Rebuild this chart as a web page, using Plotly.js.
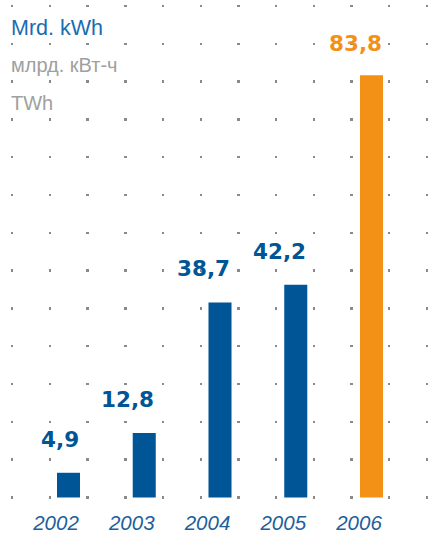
<!DOCTYPE html>
<html>
<head>
<meta charset="utf-8">
<script src="https://cdn.plot.ly/plotly-3.0.1.min.js"></script>
<style>
  html, body { margin: 0; padding: 0; background: #fff; }
  #chart { width: 429px; height: 536px; }
</style>
</head>
<body>
<div id="chart"></div>
<script>
// ---- data ----
const years = [2002, 2003, 2004, 2005, 2006];
const yearLabels = ['2002', '2003', '2004', '2005', '2006'];
const values = [4.9, 12.8, 38.7, 42.2, 83.8];
const highlightYear = 2006;
const unitLabels = ['Mrd. kWh', 'млрд. кВт-ч', 'TWh'];

// ---- styles ----
const BLUE = '#005596';
const ORANGE = '#f39117';
const colors = years.map(y => y === highlightYear ? ORANGE : BLUE);
const fmt = v => v.toFixed(1).replace('.', ',');
const labelOffset = 0.165; // year labels sit a little left of the bar centre

const bar = {
  type: 'bar',
  x: years,
  y: values,
  width: 0.304,
  marker: { color: colors, line: { width: 0 } },
  hoverinfo: 'skip'
};

const valueAnnotations = years.map((yr, i) => ({
  x: yr, y: values[i], xref: 'x', yref: 'y',
  text: fmt(values[i]),
  showarrow: false,
  xanchor: 'right', yanchor: 'bottom',
  xshift: 12, yshift: yr === highlightYear ? 17 : 19,
  font: { family: 'DejaVu Sans', size: 21.5, color: colors[i], weight: 'bold' }
}));

const unitColors = ['#1a6cb0', '#a0a0a0', '#a0a0a0'];
const unitSizes = [21.5, 20, 20];
const unitY = [0.948, 0.874, 0.798];
const unitAnnotations = unitLabels.map((t, i) => ({
  x: 0, y: unitY[i], xref: 'paper', yref: 'paper',
  text: t, showarrow: false, xanchor: 'left', yanchor: 'middle',
  xshift: -2,
  font: { family: 'Liberation Sans, Arial, sans-serif', size: unitSizes[i], color: unitColors[i] }
}));

const layout = {
  width: 429, height: 536,
  margin: { l: 11, r: 0, t: 2, b: 36 },
  paper_bgcolor: '#ffffff',
  plot_bgcolor: 'rgba(0,0,0,0)',
  showlegend: false,
  xaxis: {
    type: 'linear',
    range: [2001.241, 2006.759],
    tickmode: 'array',
    tickvals: years.map(y => y - labelOffset),
    ticktext: yearLabels,
    ticks: '', showgrid: false, zeroline: false, showline: false,
    ticklabelstandoff: 8,
    tickfont: { family: 'Liberation Sans, Arial, sans-serif', size: 20.5, color: '#1d5f9c', style: 'italic' },
    fixedrange: true
  },
  yaxis: {
    range: [-0.5, 98.31],
    tick0: 0, dtick: 7.5,
    showticklabels: false, ticks: '',
    showgrid: true, gridcolor: '#8a8a8a', gridwidth: 2.4,
    griddash: '2.4px,35.3px',
    zeroline: false, showline: false,
    fixedrange: true
  },
  annotations: valueAnnotations.concat(unitAnnotations)
};

Plotly.newPlot('chart', [bar], layout, { displayModeBar: false, staticPlot: true });
</script>
</body>
</html>
